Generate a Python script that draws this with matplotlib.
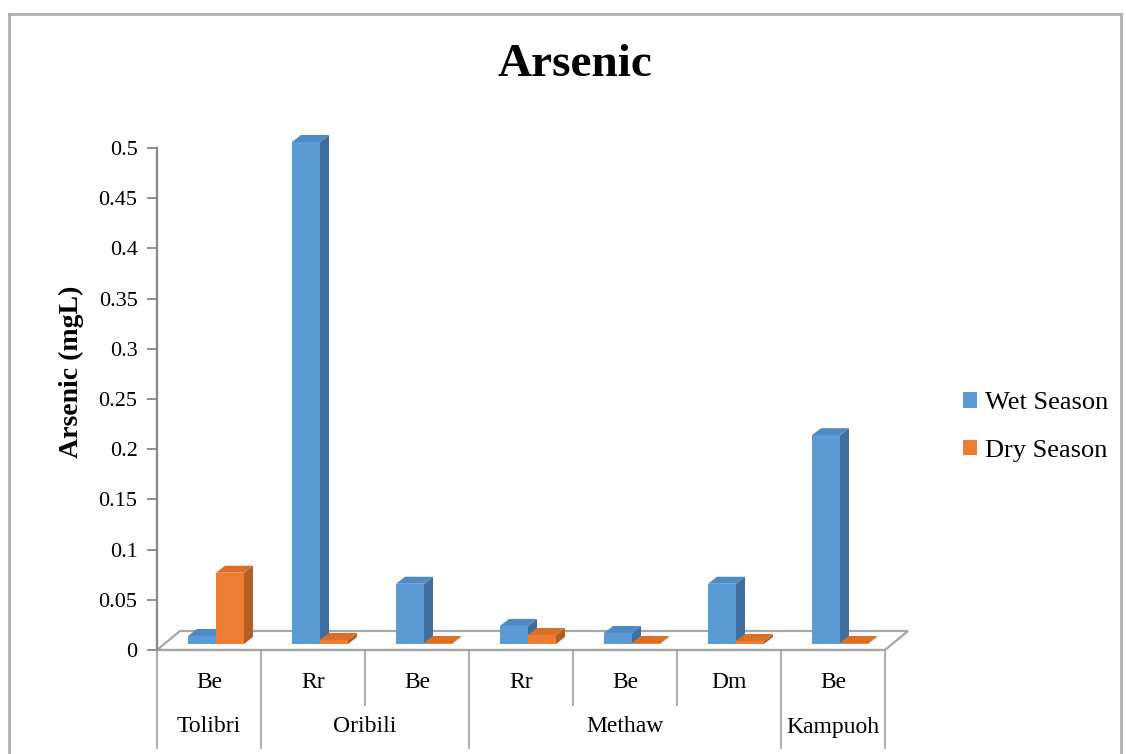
import numpy as np
import matplotlib
matplotlib.use('Agg')
import matplotlib.pyplot as plt
from matplotlib.patches import Polygon, Rectangle, Patch
from matplotlib.lines import Line2D
import matplotlib.transforms as mtransforms

plt.rcParams['font.family'] = ['Liberation Serif', 'DejaVu Serif']

sites = ['Be', 'Rr', 'Be', 'Rr', 'Be', 'Dm', 'Be']
groups = ['Tolibri', 'Oribili', 'Methaw', 'Kampuoh']
group_sizes = [1, 2, 3, 1]
wet = [0.008, 0.5, 0.06, 0.018, 0.011, 0.06, 0.208]
dry = [0.071, 0.004, 0.001, 0.009, 0.001, 0.003, 0.001]
series = ['Wet Season', 'Dry Season']
yticks = np.arange(0, 0.501, 0.05)

front = ['#5b9bd5', '#ed7d31']
side = ['#3f6f9f', '#b45f24']
top = ['#4f8ac4', '#d96f28']

W, H = 1126, 754
fig = plt.figure(figsize=(W / 100, H / 100), dpi=100)
ax = fig.add_axes([157 / W, 1 - 650 / H, 728 / W, 502 / H])
ax.set_xlim(0, len(sites))
ax.set_ylim(0, 0.5)

px = len(sites) / 728      # one pixel in category units
py = 0.5 / 502             # one pixel in value units

# floor of the 3-D plot
fdx, fdy = 23 * px, 19 * py
floor = Polygon([(0, 0), (len(sites), 0), (len(sites) + fdx, fdy), (fdx, fdy)],
                closed=True, facecolor='white', edgecolor='#a6a6a6', lw=1.6,
                clip_on=False, zorder=1)
ax.add_patch(floor)

# bars with depth
bw = 28 * px
ox, oy = 7 * px, 6 * py
ddx, ddy = 9 * px, 7 * py
for i in range(len(sites)):
    for s, vals in enumerate([wet, dry]):
        v = vals[i]
        x0 = i + 0.5 - bw + ox + s * bw
        y0 = oy
        sd = Polygon([(x0 + bw, y0), (x0 + bw + ddx, y0 + ddy),
                      (x0 + bw + ddx, y0 + v + ddy), (x0 + bw, y0 + v)],
                     closed=True, facecolor=side[s], edgecolor='none',
                     clip_on=False, zorder=2)
        tp = Polygon([(x0, y0 + v), (x0 + ddx, y0 + v + ddy),
                      (x0 + bw + ddx, y0 + v + ddy), (x0 + bw, y0 + v)],
                     closed=True, facecolor=top[s], edgecolor='none',
                     clip_on=False, zorder=2)
        fr = Rectangle((x0, y0), bw, v, facecolor=front[s], edgecolor='none',
                       clip_on=False, zorder=2)
        ax.add_patch(sd)
        ax.add_patch(tp)
        ax.add_patch(fr)

# axes styling
for sp in ['top', 'right', 'bottom']:
    ax.spines[sp].set_visible(False)
ax.spines['left'].set_color('#868686')
ax.spines['left'].set_linewidth(1.6)
ax.set_yticks(yticks)
ax.set_yticklabels(['0'] + ['%g' % t for t in yticks[1:]])
ax.tick_params(axis='y', length=7, width=1.3, color='#868686', pad=7,
               labelsize=16, labelcolor='black')
ax.set_xticks([])
ax.patch.set_visible(False)

ax.set_ylabel('Arsenic (mgL)', fontsize=20, fontweight='bold')
ax.yaxis.set_label_coords((84 - 157) / 728, (650 - 372) / 502)
fig.text(575 / W, 1 - 65 / H, 'Arsenic', fontsize=34, fontweight='bold',
         ha='center', va='center')

# two-level category axis
trans = mtransforms.blended_transform_factory(ax.transData, ax.transAxes)
ax.add_line(Line2D([0, len(sites)], [0, 0], transform=trans, color='#a6a6a6',
                   lw=1.6, clip_on=False))
bounds = np.cumsum([0] + group_sizes)
for b in range(len(sites) + 1):
    full = b in bounds
    y_end = -(748 - 650) / 502 if full else -(705 - 650) / 502
    ax.add_line(Line2D([b, b], [0, y_end], transform=trans, color='#a6a6a6',
                       lw=1.3, clip_on=False))
for i, name in enumerate(sites):
    ax.text(i + 0.5, -(683 - 650) / 502, name, transform=trans, ha='center',
            va='center', fontsize=17)
for g, name in enumerate(groups):
    c = (bounds[g] + bounds[g + 1]) / 2
    ax.text(c, -(727 - 650) / 502, name, transform=trans, ha='center',
            va='center', fontsize=17)

handles = [Patch(facecolor=front[k], edgecolor='none') for k in range(2)]
fig.legend(handles, series, loc='center left',
           bbox_to_anchor=(939 / W, 1 - 427 / H), frameon=False, fontsize=19,
           handlelength=0.55, handleheight=0.55, handletextpad=0.3,
           labelspacing=0.95)

# chart border
bc = '#b0b0b0'
fig.add_artist(Line2D([9 / W, 9 / W], [0, 1 - 14 / H], color=bc, lw=2))
fig.add_artist(Line2D([9 / W, 1121 / W], [1 - 14 / H, 1 - 14 / H], color=bc, lw=2))
fig.add_artist(Line2D([1121 / W, 1121 / W], [0, 1 - 14 / H], color=bc, lw=2))

fig.savefig('out.png', dpi=100)
